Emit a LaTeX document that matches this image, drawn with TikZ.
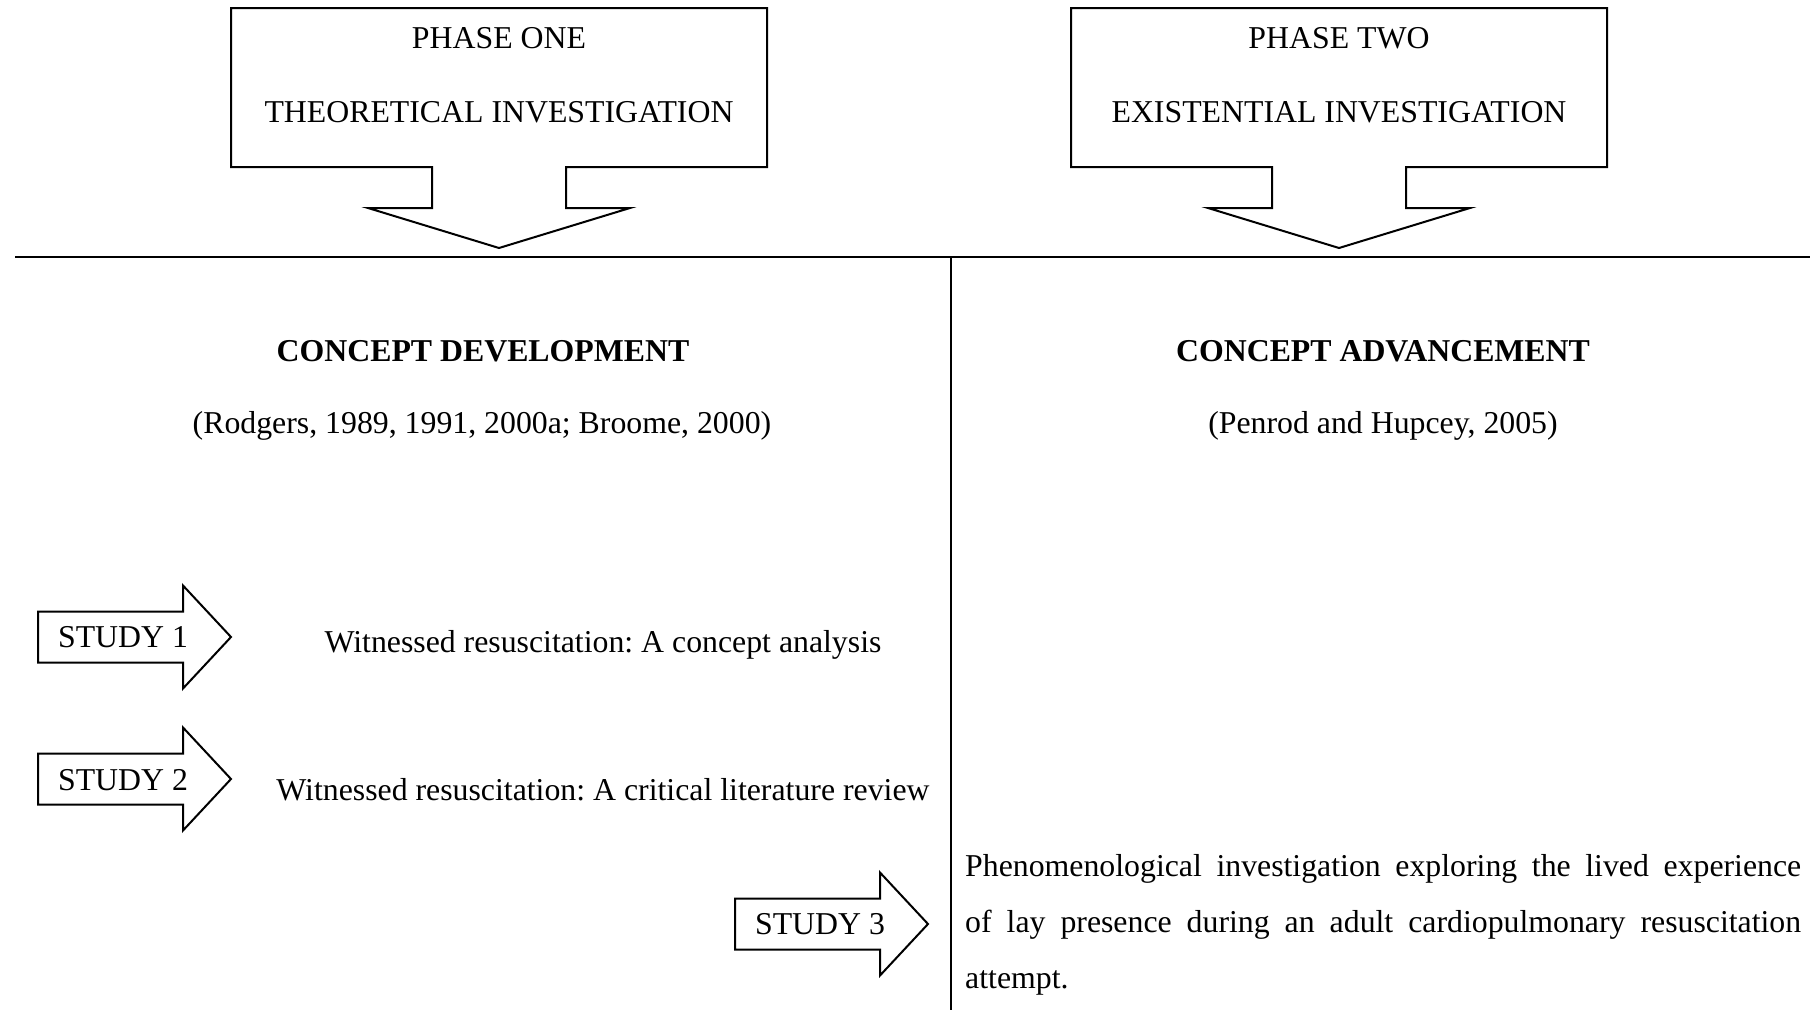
\documentclass[tikz,border=0pt]{standalone}
\usepackage{fontspec}
\setmainfont{Liberation Serif}
\frenchspacing
\begin{document}
\begin{tikzpicture}[x=1pt,y=-1pt,
  outline/.style={draw=black,line width=2pt,line join=miter,fill=white},
  divider/.style={draw=black,line width=2.3pt},
  txt/.style={font=\fontsize{31.8}{38}\selectfont,inner sep=0pt,anchor=base},
  boldtxt/.style={txt,font=\fontsize{31.8}{38}\selectfont\bfseries},
  pics/phasebox/.style={code={
    \draw[outline] (-268,-240) -- (268,-240) -- (268,-81) -- (67,-81)
      -- (67,-40) -- (131,-40) -- (0,0) -- (-131,-40) -- (-67,-40)
      -- (-67,-81) -- (-268,-81) -- cycle;
  }},
  pics/studyarrow/.style={code={
    \draw[outline] (0,-25.5) -- (145,-25.5) -- (145,-51.5) -- (193,0)
      -- (145,51.5) -- (145,25.5) -- (0,25.5) -- cycle;
  }}]
\useasboundingbox (0,0) rectangle (1810,1010);

% phase headers with their downward arrows
\pic at (499,248) {phasebox};
\pic at (1339,248) {phasebox};
\node[txt] (p1a) at (499,48) {PHASE ONE};
\node[txt] (p1b) at (499,122.5) {THEORETICAL INVESTIGATION};
\node[txt] (p2a) at (1339,48) {PHASE TWO};
\node[txt] (p2b) at (1339,122.5) {EXISTENTIAL INVESTIGATION};

% dividing lines
\coordinate (hl) at (15,257);
\coordinate (hr) at (1810,257);
\coordinate (vt) at (951,257);
\coordinate (vb) at (951,1010);
\draw[divider] (hl) -- (hr);
\draw[line width=2pt] (vt) -- (vb);

% column headings
\node[boldtxt] (cdev) at (483,361) {CONCEPT DEVELOPMENT};
\node[txt] (cdevref) at (482,433) {(Rodgers, 1989, 1991, 2000a; Broome, 2000)};
\node[boldtxt] (cadv) at (1383,361) {CONCEPT ADVANCEMENT};
\node[txt] (cadvref) at (1383,433) {(Penrod and Hupcey, 2005)};

% studies
\pic at (38,637) {studyarrow};
\node[txt] (st1) at (123,647) {STUDY 1};
\node[txt] (st1t) at (603,652) {Witnessed resuscitation: A concept analysis};

\pic at (38,779) {studyarrow};
\node[txt] (st2) at (123,790) {STUDY 2};
\node[txt] (st2t) at (603,800) {Witnessed resuscitation: A critical literature review};

\pic at (735,924) {studyarrow};
\node[txt] (st3) at (820,934) {STUDY 3};
\node[txt,anchor=base west] (st3a) at (965,876)
  {\makebox[836pt][s]{Phenomenological investigation exploring the lived experience}};
\node[txt,anchor=base west] (st3b) at (965,932)
  {\makebox[836pt][s]{of lay presence during an adult cardiopulmonary resuscitation}};
\node[txt,anchor=base west] (st3c) at (965,988) {attempt.};
\end{tikzpicture}
\end{document}
